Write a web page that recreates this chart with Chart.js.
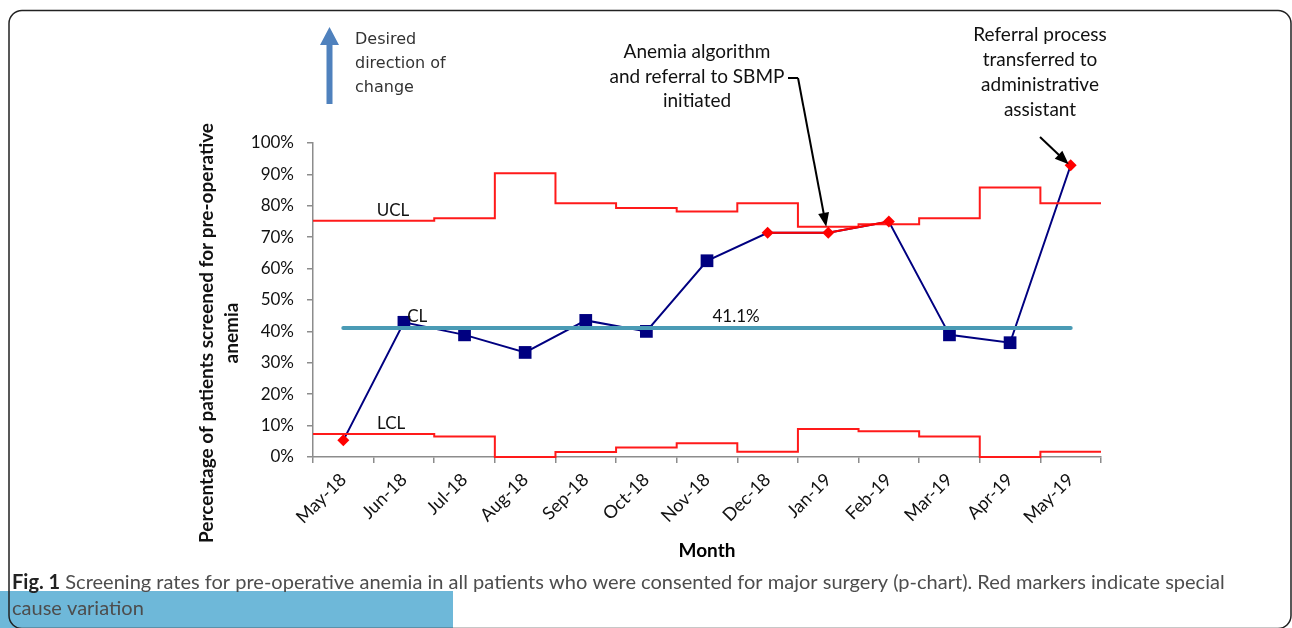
<!DOCTYPE html>
<html>
<head>
<meta charset="utf-8">
<script src="https://cdn.jsdelivr.net/npm/chart.js@4.4.1/dist/chart.umd.min.js"></script>
<style>
  html, body { margin: 0; padding: 0; background: #fff; }
  #pchart { display: block; }
</style>
</head>
<body>
<canvas id="pchart" width="1292" height="628"></canvas>
<script>
// p-chart: pre-operative anemia screening, May-18 .. May-19

const months = ['May-18', 'Jun-18', 'Jul-18', 'Aug-18', 'Sep-18', 'Oct-18', 'Nov-18',
                'Dec-18', 'Jan-19', 'Feb-19', 'Mar-19', 'Apr-19', 'May-19'];
const screened = [5.3, 42.9, 38.9, 33.3, 43.5, 40.0, 62.5, 71.4, 71.4, 75.0, 38.9, 36.4, 92.9];
// special cause points (red markers), null where the month is in control
const special = [5.3, null, null, null, null, null, null, 71.4, 71.4, 75.0, null, null, 92.9];
const centerLine = 41.1;
const ucl = [75.2, 75.2, 76.0, 90.4, 80.8, 79.3, 78.2, 80.8, 73.3, 74.1, 76.0, 85.8, 80.8];
const lcl = [7.3, 7.3, 6.5, 0, 1.6, 3.0, 4.4, 1.7, 8.9, 8.2, 6.5, 0, 1.7];
const yTicks = [0, 10, 20, 30, 40, 50, 60, 70, 80, 90, 100];

const FONT = 'Lato';

// limits hold for the whole month, so draw them as steps on a hidden 0..n axis
const stepPoints = arr => arr.map((v, i) => ({ x: i, y: v }))
  .concat([{ x: arr.length, y: arr[arr.length - 1] }]);

function arrow(ctx, x1, y1, x2, y2, head, wide) {
  const a = Math.atan2(y2 - y1, x2 - x1);
  const c = Math.cos(a), s = Math.sin(a);
  ctx.beginPath();
  ctx.moveTo(x1, y1);
  ctx.lineTo(x2 - c * head * 0.8, y2 - s * head * 0.8);
  ctx.stroke();
  ctx.beginPath();
  ctx.moveTo(x2, y2);
  ctx.lineTo(x2 - c * head + s * wide / 2, y2 - s * head - c * wide / 2);
  ctx.lineTo(x2 - c * head - s * wide / 2, y2 - s * head + c * wide / 2);
  ctx.closePath();
  ctx.fill();
}

const annotations = {
  id: 'annotations',
  afterDraw(chart) {
    const ctx = chart.ctx;
    const x = chart.scales.x, xs = chart.scales.xs, y = chart.scales.y;
    ctx.save();

    // limit / centre line labels
    ctx.fillStyle = '#111';
    ctx.font = '17px ' + FONT;
    ctx.textAlign = 'center';
    ctx.textBaseline = 'middle';
    ctx.fillText('UCL', xs.getPixelForValue(1.32), y.getPixelForValue(ucl[0]) - 10);
    ctx.fillText('CL', xs.getPixelForValue(1.72), y.getPixelForValue(centerLine) - 11);
    ctx.fillText(centerLine.toFixed(1) + '%', xs.getPixelForValue(6.98), y.getPixelForValue(centerLine) - 11);
    ctx.fillText('LCL', xs.getPixelForValue(1.29), y.getPixelForValue(lcl[0]) - 11);

    // y axis title, two lines
    ctx.font = 'bold 19px ' + FONT;
    ctx.save();
    ctx.translate(207, 333);
    ctx.rotate(-Math.PI / 2);
    ctx.fillText('Percentage of patients screened for pre-operative', 0, 0);
    ctx.fillText('anemia', 0, 25);
    ctx.restore();

    // desired direction of change
    ctx.fillStyle = '#4F81BD';
    ctx.beginPath();
    ctx.moveTo(326.5, 104);
    ctx.lineTo(332.5, 104);
    ctx.lineTo(332.5, 45);
    ctx.lineTo(339, 45);
    ctx.lineTo(329.5, 27);
    ctx.lineTo(320, 45);
    ctx.lineTo(326.5, 45);
    ctx.closePath();
    ctx.fill();
    ctx.fillStyle = '#333';
    ctx.font = '16px "DejaVu Sans"';
    ctx.textAlign = 'left';
    ctx.fillText('Desired', 355, 40);
    ctx.fillText('direction of', 355, 64);
    ctx.fillText('change', 355, 88);

    // event notes
    ctx.fillStyle = '#111';
    ctx.font = '19px ' + FONT;
    ctx.textAlign = 'center';
    ['Anemia algorithm', 'and referral to SBMP', 'initiated']
      .forEach((t, i) => ctx.fillText(t, 697, 52 + i * 24.5));
    ['Referral process', 'transferred to', 'administrative', 'assistant']
      .forEach((t, i) => ctx.fillText(t, 1040, 35 + i * 25));

    ctx.strokeStyle = '#000';
    ctx.fillStyle = '#000';
    ctx.lineWidth = 2;
    const jan = months.indexOf('Jan-19');
    ctx.beginPath();
    ctx.moveTo(788, 78);
    ctx.lineTo(798, 78);
    ctx.stroke();
    arrow(ctx, 798, 78, x.getPixelForValue(jan) - 2, y.getPixelForValue(screened[jan]) - 6, 14, 11);
    const last = months.length - 1;
    arrow(ctx, 1040, 137, x.getPixelForValue(last) - 2, y.getPixelForValue(screened[last]) - 1, 14, 11);

    // figure frame
    ctx.fillStyle = '#6EB8D9';
    ctx.fillRect(0, 591, 453, 37);
    ctx.strokeStyle = '#222';
    ctx.lineWidth = 1.5;
    ctx.beginPath();
    ctx.roundRect(9, 10.5, 1282, 618, 13);
    ctx.stroke();

    // caption, sized to the frame width
    const bold = 'Fig. 1';
    const rest = ' Screening rates for pre-operative anemia in all patients who were consented for major surgery (p-chart). Red markers indicate special';
    ctx.font = 'bold 100px ' + FONT;
    const wb = ctx.measureText(bold).width;
    ctx.font = '100px ' + FONT;
    const wr = ctx.measureText(rest).width;
    const size = 100 * 1213 / (wb + wr);
    ctx.textAlign = 'left';
    ctx.textBaseline = 'middle';
    ctx.font = 'bold ' + size + 'px ' + FONT;
    ctx.fillStyle = '#222';
    ctx.fillText(bold, 12, 583);
    const wb2 = ctx.measureText(bold).width;
    ctx.font = size + 'px ' + FONT;
    ctx.fillStyle = '#4d4d4d';
    ctx.fillText(rest, 12 + wb2, 583);
    ctx.fillText('cause variation', 12, 609);

    ctx.restore();
  }
};

new Chart(document.getElementById('pchart'), {
  type: 'line',
  data: {
    labels: months,
    datasets: [
      {
        label: 'Special cause',
        data: special,
        xAxisID: 'x',
        borderColor: '#FF0000',
        borderWidth: 2,
        pointStyle: 'rectRot',
        pointRadius: 6,
        pointBackgroundColor: '#FF0000',
        pointBorderWidth: 0,
        spanGaps: false,
        order: 0
      },
      {
        label: 'CL',
        data: months.map(() => centerLine),
        xAxisID: 'x',
        borderColor: '#4A9BB5',
        borderWidth: 4,
        borderCapStyle: 'round',
        pointRadius: 0,
        order: 1
      },
      {
        label: 'UCL',
        data: stepPoints(ucl),
        xAxisID: 'xs',
        stepped: true,
        borderColor: '#FF1A1A',
        borderWidth: 2,
        pointRadius: 0,
        clip: false,
        order: 2
      },
      {
        label: 'LCL',
        data: stepPoints(lcl),
        xAxisID: 'xs',
        stepped: true,
        borderColor: '#FF1A1A',
        borderWidth: 2,
        pointRadius: 0,
        clip: false,
        order: 2
      },
      {
        label: 'Screened',
        data: screened,
        xAxisID: 'x',
        borderColor: '#000080',
        borderWidth: 2,
        pointStyle: 'rect',
        // special cause months show only the red diamond
        pointRadius: c => (special[c.dataIndex] == null ? 9 : 0),
        pointBackgroundColor: '#000080',
        pointBorderWidth: 0,
        order: 3
      }
    ]
  },
  options: {
    responsive: false,
    animation: false,
    layout: { padding: { left: 195, right: 191, top: 143, bottom: 66 } },
    plugins: { legend: { display: false }, tooltip: { enabled: false } },
    scales: {
      x: {
        type: 'category',
        offset: true,
        grid: { offset: true, drawOnChartArea: false, tickLength: 6, color: '#8c8c8c', lineWidth: 1.5 },
        border: { color: '#8c8c8c', width: 1.5 },
        ticks: {
          autoSkip: false, minRotation: 45, maxRotation: 45, padding: 6,
          color: '#111', font: { family: FONT, size: 18 }
        },
        title: {
          display: true, text: 'Month', color: '#000',
          font: { family: FONT, size: 19, weight: 'bold' }, padding: 0
        },
        afterFit: s => { s.height = 105; }
      },
      xs: { type: 'linear', display: false, min: 0, max: months.length },
      y: {
        min: 0,
        max: 100,
        afterBuildTicks: s => { s.ticks = yTicks.map(v => ({ value: v })); },
        grid: { drawOnChartArea: false, tickLength: 6, color: '#8c8c8c', lineWidth: 1.5 },
        border: { color: '#8c8c8c', width: 1.5 },
        ticks: {
          padding: 13, color: '#111', font: { family: FONT, size: 17 },
          callback: v => v + '%'
        },
        afterFit: s => { s.width = 118; }
      }
    }
  },
  plugins: [annotations]
});
</script>
</body>
</html>
